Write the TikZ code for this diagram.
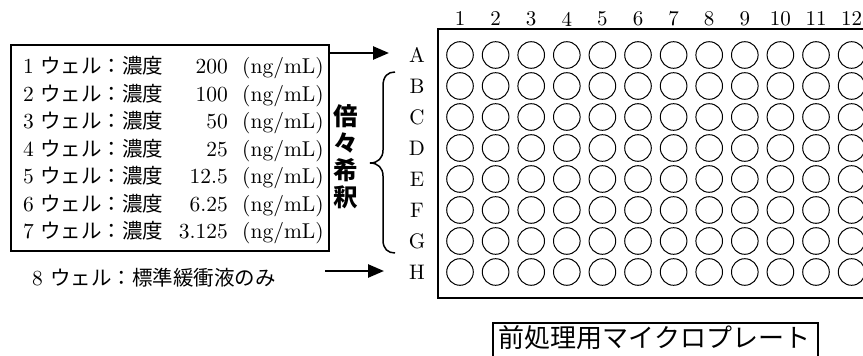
\documentclass[tikz,border=0pt]{standalone}
\usepackage{fontspec}
\setmainfont{lmroman10-regular.otf}
\newfontfamily\jp{Noto Sans CJK JP}
\usetikzlibrary{arrows.meta}
\begin{document}
\begin{tikzpicture}[x=1pt,y=-1pt,
  well/.style={circle,draw,line width=1pt,minimum size=26.6pt,inner sep=0pt},
  frame/.style={draw,line width=2pt},
  lat/.style={inner sep=0pt,font=\fontsize{21.5}{24}\selectfont},
  jtxt/.style={inner sep=0pt,font=\jp\fontsize{20.5}{24}\selectfont},
  collab/.style={inner sep=0pt,font=\fontsize{21}{22}\selectfont},
  rowlab/.style={inner sep=0pt,font=\fontsize{21}{23}\selectfont},
  arr/.style={line width=2.5pt,-{Triangle[length=16pt,width=13pt]}}
]
\path[use as bounding box] (0,0) rectangle (863,356);
\clip (0,0) rectangle (863,356);

% left box
\node[frame,anchor=north west,minimum width=318pt,minimum height=206pt,inner sep=0pt] (box) at (10,44) {};
\foreach \n/\v [count=\i] in {1/200,2/100,3/50,4/25,5/12.5,6/6.25,7/3.125}{
  \pgfmathsetmacro\yb{73.5+27.5*(\i-1)}
  \node[lat,anchor=base west] (num\i) at (23,\yb) {\n};
  \node[jtxt,anchor=base west] (jw\i) at (40,\yb) {ウェル：濃度};
  \node[lat,anchor=base east] (val\i) at (228,\yb) {\v};
  \node[lat,anchor=base west] (unit\i) at (242,\yb) {(ng/mL)};
}
\node[lat,anchor=base west] (num8) at (32,285.5) {8};
\node[jtxt,anchor=base west] (jw8) at (50,285.5) {ウェル：標準緩衝液のみ};

% dilution label
\node[inner sep=0pt,align=center,font=\jp\bfseries\fontsize{24.5}{27}\selectfont] (dil) at (346,157) {倍\\々\\希\\釈};

% brace
\draw[line width=1.5pt] (395,72) .. controls (388,72) and (383,76) .. (383,86) -- (383,150)
  .. controls (383,158) and (378,163) .. (370,163)
  .. controls (378,163) and (383,168) .. (383,176) -- (383,240)
  .. controls (383,249) and (388,253) .. (395,253);

% plate
\draw[line width=2.5pt] (875,29) -| (438,298) -- (875,298);
\foreach \c [evaluate=\c as \x using 460+35.6*(\c-1)] in {1,...,12}{
  \node[collab] (col\c) at (\x,19) {\c};
  \foreach \r in {1,...,8}{
    \pgfmathsetmacro\y{55+31*(\r-1)}
    \node[well] (w-\r-\c) at (\x,\y) {};
  }
}
\foreach \l [count=\r] in {A,B,C,D,E,F,G,H}{
  \pgfmathsetmacro\y{55+31*(\r-1)}
  \node[rowlab] (row\l) at (417,\y) {\l};
}

% arrows
\coordinate (aTip) at (389,53);
\draw[arr] (box.east |- aTip) -- (aTip);
\coordinate (hStart) at (325,271);
\coordinate (hTip) at (384,271);
\draw[arr] (hStart) -- (hTip);

% plate label
\node[draw,line width=2pt,anchor=north west,minimum width=325pt,minimum height=45pt,inner sep=0pt] (plbox) at (492,322) {};
\node[inner sep=0pt,font=\jp\fontsize{26}{28}\selectfont] (pl) at (654.5,338) {前処理用マイクロプレート};
\end{tikzpicture}
\end{document}
